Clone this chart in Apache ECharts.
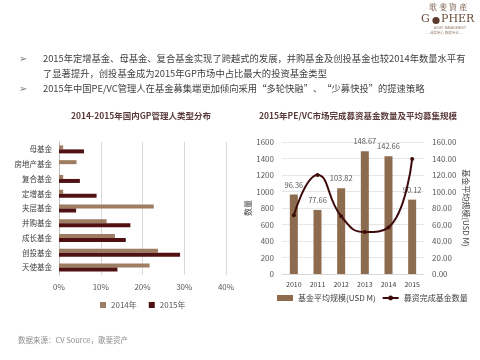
<!DOCTYPE html>
<html><head><meta charset="utf-8">
<script src="https://cdn.jsdelivr.net/npm/echarts@6/dist/echarts.min.js"></script>
<style>html,body{margin:0;padding:0;background:#fff}#c{width:480px;height:360px}</style>
</head><body><div id="c"></div>
<script>
// ---- Left chart data ----
var gpCategories = ['母基金','房地产基金','复合基金','定增基金','夹层基金','并购基金','成长基金','创投基金','天使基金'];
var gp2014 = [1.0, 4.2, 1.0, 1.0, 22.7, 11.4, 13.4, 23.7, 21.7];
var gp2015 = [6.0, 0, 5.0, 9.0, 4.1, 17.1, 16.0, 29.0, 14.0];
var gpTicks = [0, 10, 20, 30, 40];
// ---- Right chart data ----
var years = ['2010','2011','2012','2013','2014','2015'];
var avgSize = [96.36, 77.66, 103.82, 148.67, 142.66, 90.12];
var fundCount = [712, 1200, 700, 508, 565, 1395];

var FONT = '"Noto Sans CJK SC", "Microsoft YaHei", sans-serif';
var chart = echarts.init(document.getElementById('c'), null, {renderer: 'canvas'});

var headerLines = [
  {bullet: true, y: 60, t: '2015年定增基金、母基金、复合基金实现了跨越式的发展，并购基金及创投基金也较2014年数量水平有'},
  {bullet: false, y: 75, t: '了显著提升，创投基金成为2015年GP市场中占比最大的投资基金类型'},
  {bullet: true, y: 90, t: '2015年中国PE/VC管理人在基金募集端更加倾向采用“多轮快融”、“少募快投”的提速策略'}
];
var graphics = [];
headerLines.forEach(function (l) {
  if (l.bullet) {
    graphics.push({type: 'text', left: 19, top: l.y - 6, style: {text: '➢', fill: '#6f7f80', font: 'bold 10px "DejaVu Sans", sans-serif'}});
  }
  graphics.push({type: 'text', left: 43, top: l.y - 6, style: {text: l.t, fill: '#3f3f3f', font: '9.3px ' + FONT}});
});
// logo
graphics.push({type: 'text', left: 429, top: 3, style: {text: '歌 斐 資 產', fill: '#6b4c3b', font: '8px "Noto Serif CJK SC", serif'}});
graphics.push({type: 'text', left: 421, top: 14, style: {text: 'G', fill: '#6b4c3b', font: '11px "DejaVu Serif", serif'}});
graphics.push({type: 'circle', shape: {cx: 436, cy: 20.5, r: 3.6}, style: {fill: '#5a3a2a'}});
graphics.push({type: 'text', left: 441, top: 14, style: {text: 'PHER', fill: '#6b4c3b', font: '11px "DejaVu Serif", serif'}});
graphics.push({type: 'text', left: 434, top: 27, style: {text: 'ASSET MANAGEMENT', fill: '#9a8070', font: '3px sans-serif'}});
graphics.push({type: 'text', left: 426, top: 31, style: {text: '— 诚信用心 稳健专业 —', fill: '#9a8070', font: '3.5px ' + FONT}});
// titles
graphics.push({type: 'text', x: 141, y: 112, style: {text: '2014-2015年国内GP管理人类型分布', fill: '#5b3b3b', font: 'bold 8.5px ' + FONT, textAlign: 'center'}});
graphics.push({type: 'text', x: 358, y: 112, style: {text: '2015年PE/VC市场完成募资基金数量及平均募集规模', fill: '#5b3b3b', font: 'bold 8.5px ' + FONT, textAlign: 'center'}});
// source
graphics.push({type: 'text', left: 18, top: 336, style: {text: '数据来源：CV Source，歌斐资产', fill: '#8c8c8c', font: '7.5px ' + FONT}});

var option = {
  animation: false,
  backgroundColor: '#fff',
  textStyle: {fontFamily: FONT},
  graphic: graphics,
  legend: [
    {data: ['2014年', '2015年'], left: 95, top: 296, itemWidth: 6, itemHeight: 6, itemGap: 12,
     textStyle: {fontSize: 8, color: '#595959', fontFamily: FONT}, icon: 'rect'},
    {data: [{name: '基金平均规模(USD M)', icon: 'rect'}, {name: '募资完成基金数量'}], left: 272, top: 289,
     itemWidth: 16, itemHeight: 6, itemGap: 6, textStyle: {fontSize: 8, color: '#404040', fontFamily: FONT}}
  ],
  grid: [
    {left: 59, right: 254, top: 142, bottom: 85},
    {left: 282, right: 56, top: 142, bottom: 86}
  ],
  xAxis: [
    {gridIndex: 0, type: 'value', min: 0, max: 40, interval: 10,
     axisLabel: {formatter: '{value}%', fontSize: 8, color: '#595959', margin: 8},
     axisLine: {show: false}, axisTick: {show: false},
     splitLine: {lineStyle: {color: '#d9d9d9'}}},
    {gridIndex: 1, type: 'category', data: years,
     axisLabel: {fontSize: 7, color: '#404040', margin: 7},
     axisLine: {lineStyle: {color: '#d9d9d9'}}, axisTick: {show: false}}
  ],
  yAxis: [
    {gridIndex: 0, type: 'category', data: gpCategories, inverse: true,
     axisLabel: {fontSize: 7.5, color: '#404040', margin: 7},
     axisLine: {lineStyle: {color: '#bfbfbf'}}, axisTick: {show: false}},
    {gridIndex: 1, type: 'value', min: 0, max: 1600, interval: 200,
     name: '数量', nameLocation: 'middle', nameGap: 30, nameRotate: 90,
     nameTextStyle: {fontSize: 8, color: '#404040'},
     axisLabel: {fontSize: 8, color: '#595959', margin: 8, formatter: function (v) { return String(v); }},
     axisLine: {show: false}, axisTick: {show: false},
     splitLine: {lineStyle: {color: '#e6e6e6'}}},
    {gridIndex: 1, type: 'value', position: 'right', min: 0, max: 160, interval: 20,
     name: '基金平均规模(USD M)', nameLocation: 'middle', nameGap: 38, nameRotate: -90,
     nameTextStyle: {fontSize: 8, color: '#404040'},
     axisLabel: {fontSize: 8, color: '#595959', margin: 8, formatter: function (v) { return v.toFixed(2); }},
     axisLine: {show: false}, axisTick: {show: false}, splitLine: {show: false}}
  ],
  series: [
    {name: '2014年', type: 'bar', xAxisIndex: 0, yAxisIndex: 0, data: gp2014, barWidth: 4, barGap: '0%',
     itemStyle: {color: '#9e7d63'}},
    {name: '2015年', type: 'bar', xAxisIndex: 0, yAxisIndex: 0, data: gp2015, barWidth: 4, barGap: '0%',
     itemStyle: {color: '#4f1111'}},
    {name: '基金平均规模(USD M)', type: 'bar', xAxisIndex: 1, yAxisIndex: 2, data: avgSize, barWidth: 8,
     itemStyle: {color: '#8d6b4e'},
     label: {show: true, position: 'top', fontSize: 7.5, color: '#595959', distance: 6,
       formatter: function (p) { return p.value.toFixed(2); }}},
    {name: '募资完成基金数量', type: 'line', xAxisIndex: 1, yAxisIndex: 1, data: fundCount, smooth: 0.5,
     symbol: 'circle', symbolSize: 4, lineStyle: {color: '#3e0b0b', width: 2},
     itemStyle: {color: '#3e0b0b'}}
  ]
};
chart.setOption(option);
</script>
</body></html>
